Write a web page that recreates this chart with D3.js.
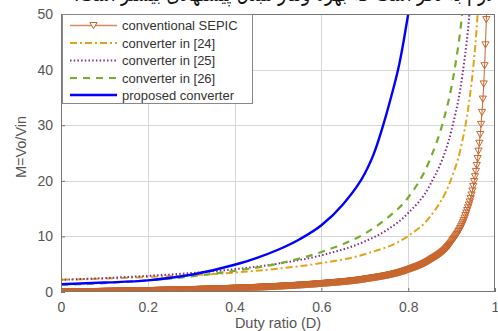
<!DOCTYPE html>
<html>
<head>
<meta charset="utf-8">
<script src="https://cdn.jsdelivr.net/npm/d3@7"></script>
<style>
body { margin: 0; background: #fff; }
svg { display: block; }
</style>
</head>
<body>
<div id="chart"></div>
<script>
// values (duty ratio D -> gain M)
var sepicD = [0, 0.1, 0.2, 0.3, 0.4, 0.5, 0.6, 0.7, 0.8, 0.85, 0.9, 0.93, 0.95, 0.96, 0.97, 0.975, 0.98, 0.982];
var sepicM = [0, 0.11, 0.25, 0.43, 0.67, 1.0, 1.5, 2.3, 4.0, 5.7, 9.0, 13.3, 19, 24, 32.3, 39, 49, 54.5];

var ref24D = [0, 0.1, 0.2, 0.3, 0.4, 0.5, 0.6, 0.7, 0.8, 0.85, 0.9, 0.92, 0.94, 0.95, 0.96, 0.965];
var ref24M = [2.2, 2.4, 2.7, 3.0, 3.5, 4.2, 5.2, 6.8, 10.1, 13.5, 20.5, 25.5, 34, 40.5, 50, 57];

var ref25D = [0, 0.1, 0.2, 0.3, 0.4, 0.5, 0.6, 0.7, 0.75, 0.8, 0.85, 0.9, 0.92, 0.93, 0.94, 0.945];
var ref25M = [2.2, 2.5, 2.9, 3.4, 4.1, 5.1, 6.6, 9.1, 11.1, 14.2, 19.2, 29.2, 36.5, 42, 49, 54];

var ref26D = [0, 0.1, 0.2, 0.3, 0.4, 0.5, 0.6, 0.7, 0.75, 0.8, 0.85, 0.88, 0.9, 0.91, 0.92, 0.925, 0.93];
var ref26M = [1.3, 1.6, 2.1, 2.8, 3.8, 5.1, 7.2, 10.5, 13.2, 17, 23.8, 30.5, 37, 41.5, 47, 50.5, 55];

var propD = [0, 0.1, 0.2, 0.3, 0.4, 0.45, 0.5, 0.55, 0.6, 0.65, 0.7, 0.72, 0.74, 0.76, 0.78, 0.8, 0.81];
var propM = [1.4, 1.7, 2.1, 3.1, 4.9, 6.1, 7.6, 9.5, 12.0, 15.8, 21.3, 24.7, 29.4, 34.9, 41.2, 50, 55];

var legendNames = ["conventional SEPIC", "converter in [24]", "converter in [25]", "converter in [26]", "proposed converter"];
var xTicks = [0, 0.2, 0.4, 0.6, 0.8, 1];
var xTickLabels = ["0", "0.2", "0.4", "0.6", "0.8", "1"];
var yTicks = [0, 10, 20, 30, 40, 50];

var width = 498, height = 331;

var svg = d3.select("#chart").append("svg")
    .attr("width", width)
    .attr("height", height);

var x = d3.scaleLinear().domain([0, 1]).range([61, 495]);
var y = d3.scaleLinear().domain([0, 50]).range([292, 14]);

// clipped line of text from the page above the figure
svg.append("text")
    .attr("x", 496)
    .attr("y", 1)
    .attr("direction", "rtl")
    .attr("text-anchor", "start")
    .attr("textLength", 422)
    .attr("lengthAdjust", "spacingAndGlyphs")
    .style("font-family", "'DejaVu Sans'")
    .style("font-size", "22px")
    .style("fill", "#111")
    .text("لازم به ذکر است که بهره ولتاژ مبدل پیشنهادی بیشتر است.");

// grid
var grid = svg.append("g").attr("stroke", "#d6d6d6").attr("stroke-width", 1);
grid.selectAll(".gx").data(xTicks.slice(1, -1)).enter().append("line")
    .attr("x1", function (d) { return Math.round(x(d)) + 0.5; })
    .attr("x2", function (d) { return Math.round(x(d)) + 0.5; })
    .attr("y1", y(50)).attr("y2", y(0));
grid.selectAll(".gy").data(yTicks.slice(1, -1)).enter().append("line")
    .attr("y1", function (d) { return Math.round(y(d)) + 0.5; })
    .attr("y2", function (d) { return Math.round(y(d)) + 0.5; })
    .attr("x1", x(0)).attr("x2", x(1));

// axes (MATLAB style ticks pointing inwards)
var xAxis = svg.append("g")
    .attr("transform", "translate(0," + y(0) + ")")
    .call(d3.axisBottom(x).tickValues(xTicks)
        .tickFormat(function (d, i) { return xTickLabels[i]; })
        .tickSize(-4).tickPadding(10));
var yAxis = svg.append("g")
    .attr("transform", "translate(" + x(0) + ",0)")
    .call(d3.axisLeft(y).tickValues(yTicks).tickSize(-4).tickPadding(8));

[xAxis, yAxis].forEach(function (g) {
    g.select(".domain").remove();
    g.selectAll("line").attr("stroke", "#777");
    g.selectAll("text")
        .style("font-family", "'Liberation Sans', Arial, sans-serif")
        .style("font-size", "14px")
        .attr("fill", "#555");
});

svg.append("text")
    .attr("x", (x(0) + x(1)) / 2)
    .attr("y", 328)
    .attr("text-anchor", "middle")
    .style("font-family", "'Liberation Sans', Arial, sans-serif")
    .style("font-size", "14.5px")
    .attr("fill", "#555")
    .text("Duty ratio (D)");

svg.append("text")
    .attr("transform", "translate(26," + 147 + ") rotate(-90)")
    .attr("text-anchor", "middle")
    .style("font-family", "'Liberation Sans', Arial, sans-serif")
    .style("font-size", "14.5px")
    .attr("fill", "#555")
    .text("M=Vo/Vin");

// curves
svg.append("clipPath").attr("id", "plotclip")
    .append("rect")
    .attr("x", x(0)).attr("y", y(50))
    .attr("width", x(1) - x(0)).attr("height", y(0) - y(50));

var plot = svg.append("g").attr("clip-path", "url(#plotclip)");

var line = d3.line()
    .x(function (d) { return x(d[0]); })
    .y(function (d) { return y(d[1]); })
    .curve(d3.curveMonotoneX);

function pairs(ds, ms) {
    return ds.map(function (d, i) { return [d, ms[i]]; });
}

var styles = [
    { color: "#C8662E", width: 1, dash: null },
    { color: "#E3A21A", width: 2, dash: "7,3,2,3" },
    { color: "#7E2F8E", width: 2, dash: "1.5,2.2" },
    { color: "#77AC30", width: 2.2, dash: "7,6" },
    { color: "#0000FF", width: 2.4, dash: null }
];

var series = [
    pairs(sepicD, sepicM),
    pairs(ref24D, ref24M),
    pairs(ref25D, ref25M),
    pairs(ref26D, ref26M),
    pairs(propD, propM)
];

var paths = series.map(function (s, i) {
    return plot.append("path")
        .datum(s)
        .attr("d", line)
        .attr("fill", "none")
        .attr("stroke", styles[i].color)
        .attr("stroke-width", styles[i].width)
        .attr("stroke-dasharray", styles[i].dash);
});

// triangle markers of the SEPIC curve, evenly spaced in D along the drawn line
function pointAtX(node, px) {
    var lo = 0, hi = node.getTotalLength();
    for (var k = 0; k < 30; k++) {
        var mid = (lo + hi) / 2;
        if (node.getPointAtLength(mid).x < px) lo = mid; else hi = mid;
    }
    return node.getPointAtLength((lo + hi) / 2);
}

var tri = "M-3.6,-3L3.6,-3L0,3.2Z";
var sepicNode = paths[0].node();
var markerD = d3.range(0, 0.9805, 0.002);
var markerG = plot.insert("g", ":nth-child(2)");
markerD.forEach(function (d) {
    var p = pointAtX(sepicNode, x(d));
    markerG.append("path")
        .attr("d", tri)
        .attr("transform", "translate(" + p.x + "," + p.y + ")")
        .attr("fill", "none")
        .attr("stroke", styles[0].color)
        .attr("stroke-width", 1);
});

// box
svg.append("rect")
    .attr("x", x(0) + 0.5).attr("y", y(50) + 0.5)
    .attr("width", x(1) - x(0) - 1).attr("height", y(0) - y(50) - 1)
    .attr("fill", "none")
    .attr("stroke", "#777");

// legend
var legend = svg.append("g");
legend.append("rect")
    .attr("x", 62.5).attr("y", 14.5)
    .attr("width", 190).attr("height", 89)
    .attr("fill", "#fff")
    .attr("stroke", "#888");

var rowY = [25.5, 43, 60.5, 78, 95];
legendNames.forEach(function (name, i) {
    legend.append("line")
        .attr("x1", 70).attr("x2", 117)
        .attr("y1", rowY[i]).attr("y2", rowY[i])
        .attr("stroke", i === 0 ? "#DB8A5C" : styles[i].color)
        .attr("stroke-width", i === 0 ? 1.4 : styles[i].width)
        .attr("stroke-dasharray", styles[i].dash);
    if (i === 0) {
        legend.append("path")
            .attr("d", tri)
            .attr("transform", "translate(93.5," + rowY[i] + ")")
            .attr("fill", "#fff")
            .attr("stroke", styles[0].color);
    }
    legend.append("text")
        .attr("x", 122)
        .attr("y", rowY[i])
        .attr("dy", "0.35em")
        .style("font-family", "'Liberation Sans', Arial, sans-serif")
        .style("font-size", "13px")
        .attr("fill", "#333")
        .text(name);
});
</script>
</body>
</html>
